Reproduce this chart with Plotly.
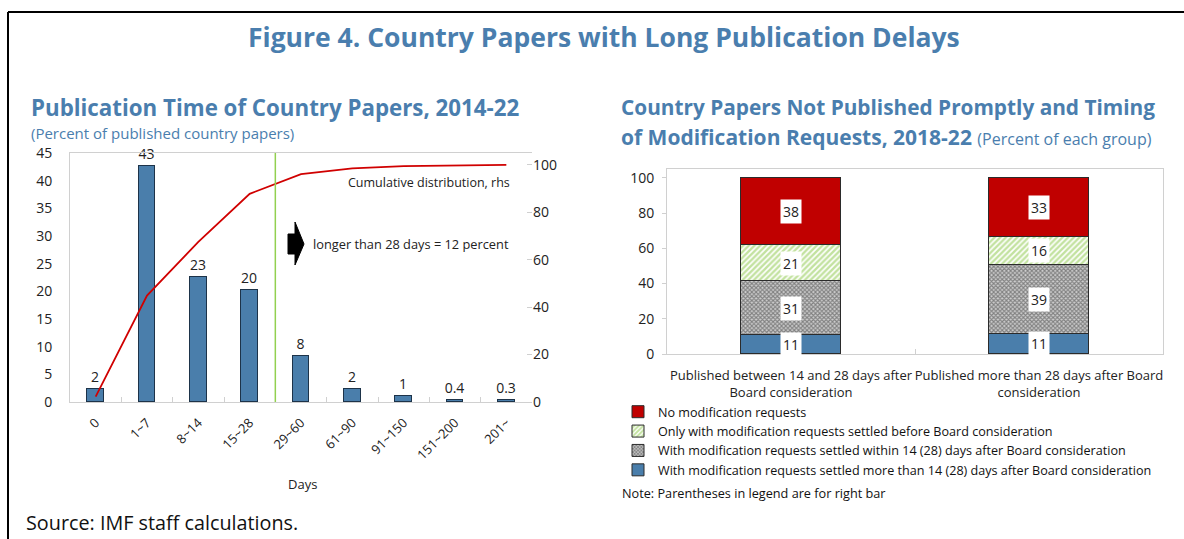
import plotly.graph_objects as go

W, H = 1184, 539

# ---------------- data ----------------
day_bins = ["0", "1~7", "8~14", "15~28", "29~60", "61~90", "91~150", "151~200", "201~"]
share_pct = [2.3, 42.6, 22.6, 20.3, 8.3, 2.4, 1.0, 0.4, 0.3]
cumulative_pct = [2.3, 44.9, 67.5, 87.8, 96.1, 98.5, 99.5, 99.8, 100.0]

groups = ["Published between 14 and 28 days after<br>Board consideration",
          "Published more than 28 days after Board<br>consideration"]
series_names = [
    "With modification requests settled more than 14 (28) days after Board consideration",
    "With modification requests settled within 14 (28) days after Board consideration",
    "Only with modification requests settled before Board consideration",
    "No modification requests",
]
settled_late = [10.6, 11.4]
settled_within = [30.6, 39.0]
settled_before = [20.6, 16.2]
no_requests = [38.2, 33.4]

BLUE = "#4a7eab"
TITLE_BLUE = "#4a7eae"
RED = "#c00000"
GREEN = "#92d050"
FONT = "Open Sans"


def px_x(p):
    return p / W


def px_y(p):
    return 1 - p / H


def fmt(v):
    return f"{v:.1f}" if v < 1 else f"{round(v):d}"


fig = go.Figure()

# ---------------- left chart ----------------
fig.add_trace(go.Bar(
    x=day_bins, y=share_pct, xaxis="x", yaxis="y",
    width=0.33, marker=dict(color=BLUE, line=dict(color="#1d3349", width=1)),
    text=[fmt(v) for v in share_pct], textposition="outside", constraintext="none",
    textfont=dict(size=14, color="#222"), cliponaxis=False, showlegend=False,
))
fig.add_trace(go.Scatter(
    x=day_bins, y=cumulative_pct, xaxis="x", yaxis="y2", mode="lines",
    line=dict(color="#d00000", width=1.8), showlegend=False,
))

# ---------------- right chart ----------------
stack = [
    (series_names[0], settled_late, dict(color=BLUE)),
    (series_names[1], settled_within, dict(color="white", pattern=dict(shape="x", fgcolor="#333333", bgcolor="#cfcfcf", size=3, solidity=0.6))),
    (series_names[2], settled_before, dict(color="white", pattern=dict(shape="/", fgcolor="#86c540", bgcolor="white", size=4, solidity=0.6))),
    (series_names[3], no_requests, dict(color=RED)),
]
for name, vals, mk in stack:
    mk = dict(mk)
    mk["line"] = dict(color="#2b2b2b", width=1)
    fig.add_trace(go.Bar(
        x=groups, y=vals, name=name, xaxis="x3", yaxis="y3",
        width=0.4, marker=mk,
    ))

annotations = []
# segment labels (white boxes)
for gi, g in enumerate(groups):
    base = 0.0
    for name, vals, mk in stack:
        v = vals[gi]
        annotations.append(dict(
            x=g, y=base + v / 2, xref="x3", yref="y3", text=fmt(v), showarrow=False,
            font=dict(size=14, color="#222", family=FONT), bgcolor="white", borderpad=2,
        ))
        base += v

# ---------------- text ----------------
annotations += [
    dict(x=px_x(604), y=px_y(37), xref="paper", yref="paper", showarrow=False,
         text="<b>Figure 4. Country Papers with Long Publication Delays</b>",
         font=dict(size=26.5, color=TITLE_BLUE, family=FONT), xanchor="center", yanchor="middle"),
    dict(x=px_x(29), y=px_y(107), xref="paper", yref="paper", showarrow=False,
         text="<b>Publication Time of Country Papers, 2014-22</b>",
         font=dict(size=22.3, color=TITLE_BLUE, family=FONT), xanchor="left", yanchor="middle"),
    dict(x=px_x(29), y=px_y(133), xref="paper", yref="paper", showarrow=False,
         text="(Percent of published country papers)",
         font=dict(size=15, color=TITLE_BLUE, family=FONT), xanchor="left", yanchor="middle"),
    dict(x=px_x(619), y=px_y(107), xref="paper", yref="paper", showarrow=False,
         text="<b>Country Papers Not Published Promptly and Timing</b>",
         font=dict(size=20.8, color=TITLE_BLUE, family=FONT), xanchor="left", yanchor="middle"),
    dict(x=px_x(619), y=px_y(137), xref="paper", yref="paper", showarrow=False,
         text="<b>of Modification Requests, 2018-22</b> <span style='font-size:16px'>(Percent of each group)</span>",
         font=dict(size=21, color=TITLE_BLUE, family=FONT), xanchor="left", yanchor="middle"),
    dict(x=px_x(512), y=px_y(182), xref="paper", yref="paper", showarrow=False,
         text="Cumulative distribution, rhs", font=dict(size=12.5, color="#222", family=FONT),
         xanchor="right", yanchor="middle"),
    dict(x=px_x(311), y=px_y(244), xref="paper", yref="paper", showarrow=False,
         text="longer than 28 days = 12 percent", font=dict(size=12.8, color="#222", family=FONT),
         xanchor="left", yanchor="middle"),
    dict(x=px_x(302), y=px_y(484), xref="paper", yref="paper", showarrow=False,
         text="Days", font=dict(size=13, color="#222", family=FONT), xanchor="center", yanchor="middle"),
    dict(x=px_x(24), y=px_y(522), xref="paper", yref="paper", showarrow=False,
         text="Source: IMF staff calculations.", font=dict(size=19.8, color="#111", family=FONT),
         xanchor="left", yanchor="middle"),
    dict(x=px_x(620), y=px_y(493), xref="paper", yref="paper", showarrow=False,
         text="Note: Parentheses in legend are for right bar", font=dict(size=12.7, color="#111", family=FONT),
         xanchor="left", yanchor="middle"),
]

shapes = [
    # outer frame lines
    dict(type="line", xref="paper", yref="paper", x0=px_x(8), x1=1, y0=px_y(12), y1=px_y(12),
         line=dict(color="black", width=2)),
    dict(type="line", xref="paper", yref="paper", x0=px_x(8), x1=px_x(8), y0=px_y(12), y1=0,
         line=dict(color="black", width=2)),
    # 28-day threshold line
    dict(type="line", xref="x", yref="y domain", x0=3.5, x1=3.5, y0=0, y1=1,
         line=dict(color=GREEN, width=1.5)),
    # block arrow
    dict(type="path", xref="paper", yref="paper",
         path=("M {a},{b} L {c},{b} L {c},{d} L {e},{f} L {c},{g} L {c},{h} L {a},{h} Z").format(
             a=px_x(288), b=px_y(234), c=px_x(295), d=px_y(222), e=px_x(304), f=px_y(244),
             g=px_y(265), h=px_y(254)),
         fillcolor="black", line=dict(color="black", width=1)),
]

axis_font = dict(size=14, color="#222", family=FONT)

fig.update_layout(
    width=W, height=H,
    margin=dict(l=0, r=0, t=0, b=0, autoexpand=False),
    paper_bgcolor="white", plot_bgcolor="white",
    font=dict(family=FONT, color="#222"),
    barmode="stack",
    bargap=0,
    annotations=annotations,
    shapes=shapes,
    xaxis=dict(domain=[px_x(70), px_x(532)], anchor="y", type="category", automargin=False,
               range=[-0.5, 8.5], tickangle=-45, tickfont=dict(size=13, color="#222", family=FONT),
               showline=True, linecolor="#d0d0d0", mirror=True, showgrid=False,
               ticks="inside", ticklen=5, tickcolor="#d0d0d0", tickson="boundaries",
               ticklabelstandoff=7),
    yaxis=dict(domain=[px_y(402), px_y(153)], anchor="x", range=[0, 45], dtick=5, automargin=False,
               showgrid=False, zeroline=False, showline=True, linecolor="#d0d0d0",
               ticks="", ticklabelstandoff=14, tickfont=axis_font),
    yaxis2=dict(overlaying="y", side="right", anchor="x", range=[0, 105], automargin=False,
                tickvals=[0, 20, 40, 60, 80, 100],
                showgrid=False, zeroline=False, showline=False, ticks="inside", ticklen=5,
                tickcolor="#d0d0d0", tickfont=axis_font),
    xaxis3=dict(domain=[px_x(667), px_x(1163)], anchor="y3", type="category", automargin=False,
                tickangle=0, showline=True, linecolor="#d0d0d0", mirror=True, showgrid=False,
                ticks="inside", ticklen=5, tickcolor="#d0d0d0", tickson="boundaries",
                ticklabelstandoff=9, tickfont=dict(size=13, color="#222", family=FONT)),
    yaxis3=dict(domain=[px_y(354), px_y(169)], anchor="x3", range=[0, 105], automargin=False,
                tickvals=[0, 20, 40, 60, 80, 100], showgrid=False, zeroline=False,
                showline=True, linecolor="#d0d0d0", mirror=True, ticks="outside", ticklen=4,
                tickcolor="#d0d0d0", ticklabelstandoff=5, tickfont=axis_font),
    legend=dict(x=px_x(618), y=px_y(397), xanchor="left", yanchor="top",
                traceorder="reversed", font=dict(size=12.6, color="#111", family=FONT),
                bgcolor="rgba(0,0,0,0)", itemwidth=30, tracegroupgap=0),
)

fig.write_html("out.html")
